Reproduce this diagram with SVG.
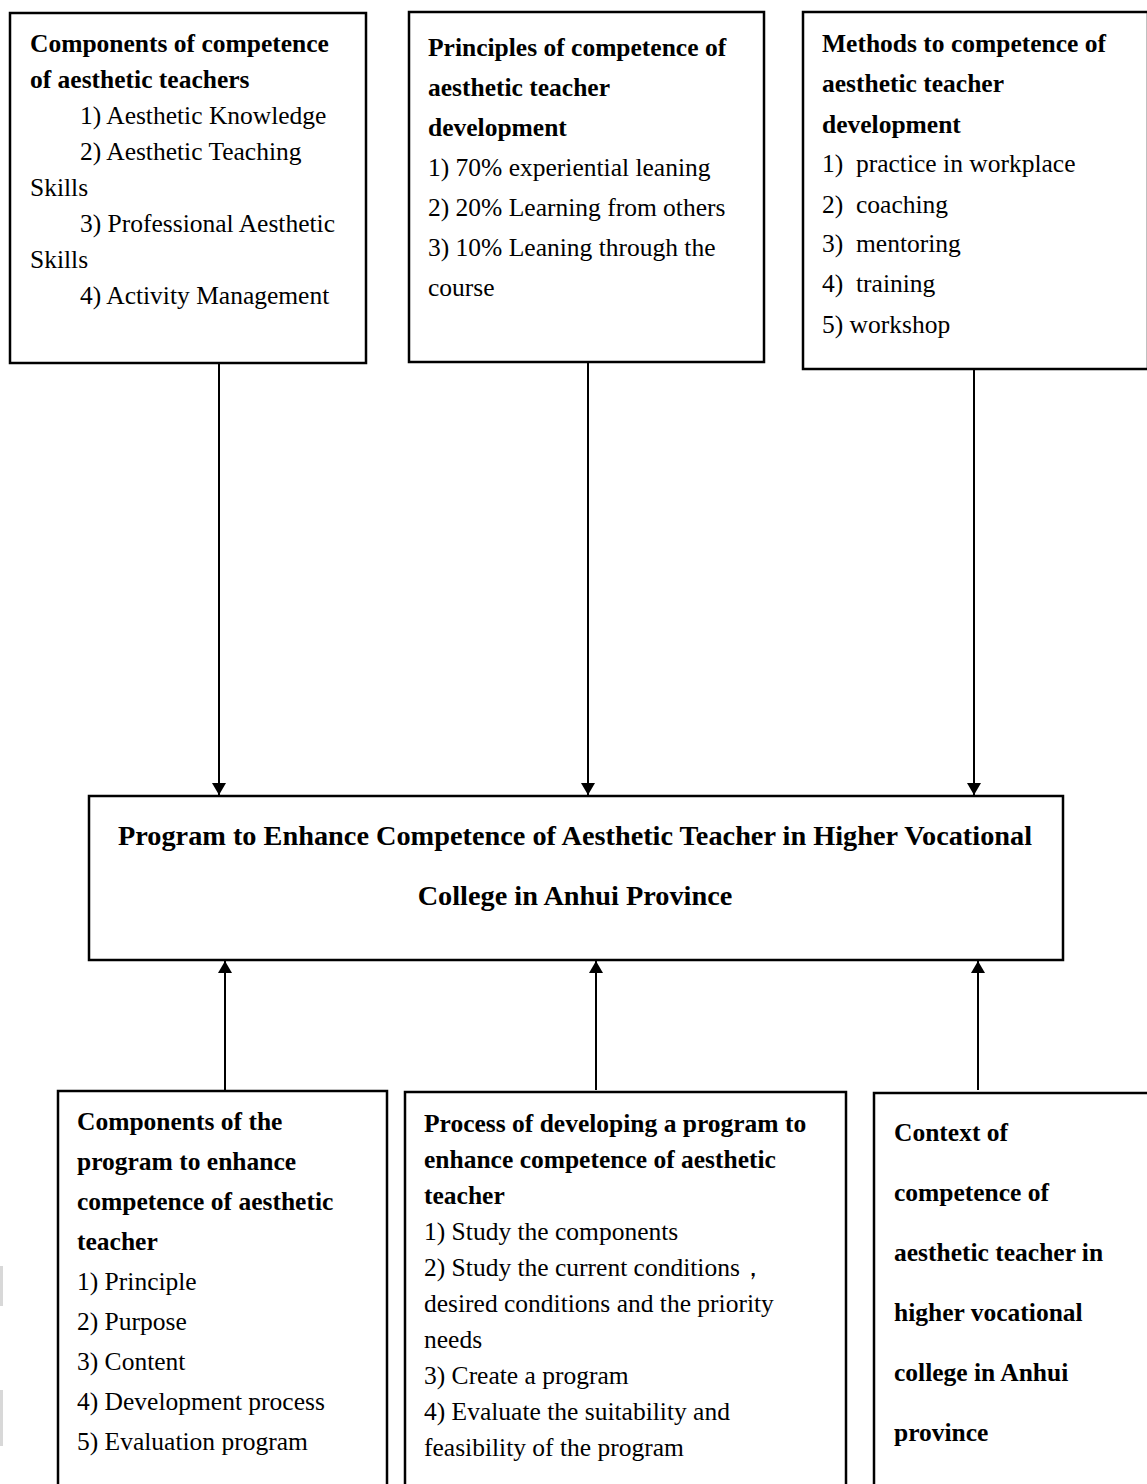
<svg xmlns="http://www.w3.org/2000/svg" width="1147" height="1484" viewBox="0 0 1147 1484" font-family="Liberation Serif, DejaVu Serif, serif">
  <style>
    .box { fill: #fff; stroke: #000; stroke-width: 2.5; }
    .t { font-family: 'Liberation Serif', 'DejaVu Serif', serif; font-size: 25.5px; fill: #000; }
    .b { font-weight: bold; }
    .m { font-family: 'Liberation Serif', 'DejaVu Serif', serif; font-size: 28.3px; font-weight: bold; fill: #000; }
    .link { stroke: #000; stroke-width: 2; fill: none; }
  </style>
  <defs>
    <marker id="arrow" viewBox="0 0 12 14" refX="12" refY="7" markerWidth="12" markerHeight="14" markerUnits="userSpaceOnUse" orient="auto">
      <path d="M0,0 L12,7 L0,14 Z" fill="#000"/>
    </marker>
    <filter id="soft" x="-50%" y="-10%" width="200%" height="120%">
      <feGaussianBlur stdDeviation="4"/>
    </filter>
  </defs>
  <rect width="1147" height="1484" fill="#fff"/>

  <!-- faint marks at the left page edge -->
  <rect x="0" y="1266" width="3" height="40" fill="#d8d8d8"/>
  <rect x="0" y="1390" width="3" height="56" fill="#d8d8d8"/>

  <!-- connectors -->
  <g id="connectors">
    <line x1="974" y1="700" x2="974" y2="800" stroke="#999" stroke-width="5" filter="url(#soft)" opacity="0.6"/>
    <line class="link" x1="219" y1="363" x2="219" y2="795" marker-end="url(#arrow)"/>
    <line class="link" x1="588" y1="362" x2="588" y2="795" marker-end="url(#arrow)"/>
    <line class="link" x1="974" y1="369" x2="974" y2="795" stroke-width="2.5" marker-end="url(#arrow)"/>
    <line class="link" x1="225" y1="1090" x2="225" y2="961" marker-end="url(#arrow)"/>
    <line class="link" x1="596" y1="1090" x2="596" y2="961" marker-end="url(#arrow)"/>
    <line class="link" x1="978" y1="1090" x2="978" y2="961" marker-end="url(#arrow)"/>
  </g>

  <!-- top row -->
  <g id="components-competence">
    <rect class="box" x="10" y="13" width="356" height="350"/>
    <text class="t b" x="30" y="52">Components of competence</text>
    <text class="t b" x="30" y="88">of aesthetic teachers</text>
    <text class="t" x="80" y="124">1) Aesthetic Knowledge</text>
    <text class="t" x="80" y="160">2) Aesthetic Teaching</text>
    <text class="t" x="30" y="196">Skills</text>
    <text class="t" x="80" y="232">3) Professional Aesthetic</text>
    <text class="t" x="30" y="268">Skills</text>
    <text class="t" x="80" y="304">4) Activity Management</text>
  </g>

  <g id="principles">
    <rect class="box" x="409" y="12" width="355" height="350"/>
    <text class="t b" x="428" y="56">Principles of competence of</text>
    <text class="t b" x="428" y="96">aesthetic teacher</text>
    <text class="t b" x="428" y="136">development</text>
    <text class="t" x="428" y="176">1) 70% experiential leaning</text>
    <text class="t" x="428" y="216">2) 20% Learning from others</text>
    <text class="t" x="428" y="256">3) 10% Leaning through the</text>
    <text class="t" x="428" y="296">course</text>
  </g>

  <g id="methods">
    <rect class="box" x="803" y="12" width="345" height="357"/>
    <text class="t b" x="822" y="52">Methods to competence of</text>
    <text class="t b" x="822" y="92">aesthetic teacher</text>
    <text class="t b" x="822" y="133">development</text>
    <text class="t" x="822" y="172">1)&#160; practice in workplace</text>
    <text class="t" x="822" y="213">2)&#160; coaching</text>
    <text class="t" x="822" y="252">3)&#160; mentoring</text>
    <text class="t" x="822" y="292">4)&#160; training</text>
    <text class="t" x="822" y="333">5) workshop</text>
  </g>

  <!-- central program -->
  <g id="program">
    <rect class="box" x="89" y="796" width="974" height="164"/>
    <text class="m" x="575" y="845" text-anchor="middle">Program to Enhance Competence of Aesthetic Teacher in Higher Vocational</text>
    <text class="m" x="575" y="905" text-anchor="middle">College in Anhui Province</text>
  </g>

  <!-- bottom row -->
  <g id="program-components">
    <rect class="box" x="58" y="1091" width="329" height="400"/>
    <text class="t b" x="77" y="1130">Components of the</text>
    <text class="t b" x="77" y="1170">program to enhance</text>
    <text class="t b" x="77" y="1210">competence of aesthetic</text>
    <text class="t b" x="77" y="1250">teacher</text>
    <text class="t" x="77" y="1290">1) Principle</text>
    <text class="t" x="77" y="1330">2) Purpose</text>
    <text class="t" x="77" y="1370">3) Content</text>
    <text class="t" x="77" y="1410">4) Development process</text>
    <text class="t" x="77" y="1450">5) Evaluation program</text>
  </g>

  <g id="development-process">
    <rect class="box" x="405" y="1092" width="441" height="400"/>
    <text class="t b" x="424" y="1132">Process of developing a program to</text>
    <text class="t b" x="424" y="1168">enhance competence of aesthetic</text>
    <text class="t b" x="424" y="1204">teacher</text>
    <text class="t" x="424" y="1240">1) Study the components</text>
    <text class="t" x="424" y="1276">2) Study the current conditions，</text>
    <text class="t" x="424" y="1312">desired conditions and the priority</text>
    <text class="t" x="424" y="1348">needs</text>
    <text class="t" x="424" y="1384">3) Create a program</text>
    <text class="t" x="424" y="1420">4) Evaluate the suitability and</text>
    <text class="t" x="424" y="1456">feasibility of the program</text>
  </g>

  <g id="context">
    <rect class="box" x="874" y="1093" width="280" height="400"/>
    <text class="t b" x="894" y="1141">Context of</text>
    <text class="t b" x="894" y="1201">competence of</text>
    <text class="t b" x="894" y="1261">aesthetic teacher in</text>
    <text class="t b" x="894" y="1321">higher vocational</text>
    <text class="t b" x="894" y="1381">college in Anhui</text>
    <text class="t b" x="894" y="1441">province</text>
  </g>
</svg>
